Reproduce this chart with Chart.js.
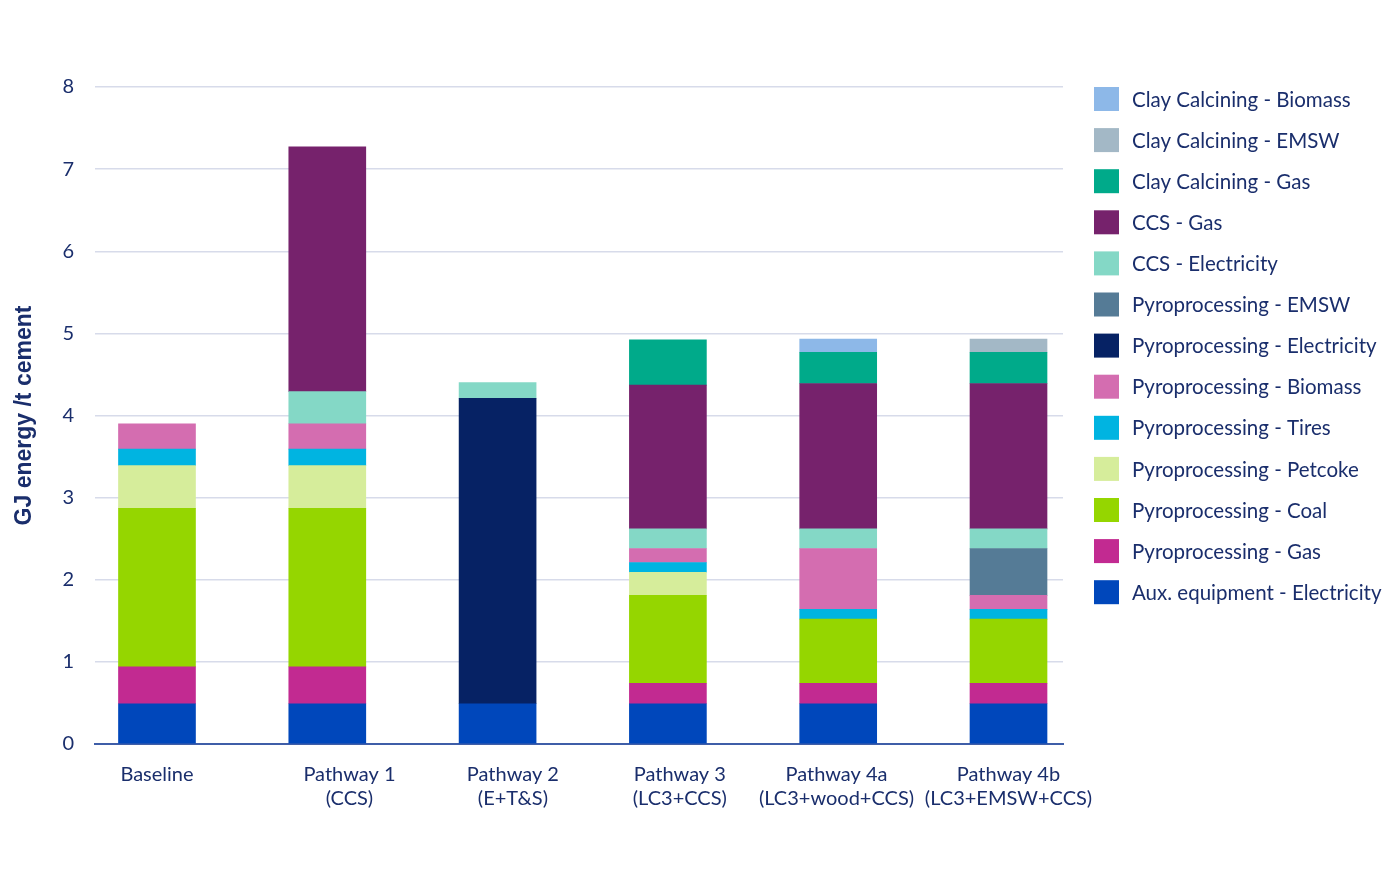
<!DOCTYPE html>
<html>
<head>
<meta charset="utf-8">
<script src="https://cdn.jsdelivr.net/npm/chart.js@4"></script>
<style>
  html, body { margin: 0; padding: 0; background: #fff; }
  #wrap { width: 1400px; height: 885px; position: relative; }
</style>
</head>
<body>
<div id="wrap"><canvas id="chart"></canvas></div>
<script>
// categories (x axis), multi-line labels
const categories = [
  ["Baseline"],
  ["Pathway 1", "(CCS)"],
  ["Pathway 2", "(E+T&S)"],
  ["Pathway 3", "(LC3+CCS)"],
  ["Pathway 4a", "(LC3+wood+CCS)"],
  ["Pathway 4b", "(LC3+EMSW+CCS)"]
];
const yTicks = [0, 1, 2, 3, 4, 5, 6, 7, 8];

// GJ energy / t cement, per category, bottom to top
const auxElectricity   = [0.49, 0.49, 0.49, 0.49, 0.49, 0.49];
const pyroGas          = [0.45, 0.45, 0,    0.25, 0.25, 0.25];
const pyroCoal         = [1.93, 1.93, 0,    1.07, 0.78, 0.78];
const pyroPetcoke      = [0.52, 0.52, 0,    0.28, 0,    0];
const pyroTires        = [0.20, 0.20, 0,    0.12, 0.12, 0.12];
const pyroBiomass      = [0.31, 0.31, 0,    0.17, 0.74, 0.17];
const pyroElectricity  = [0,    0,    3.72, 0,    0,    0];
const pyroEMSW         = [0,    0,    0,    0,    0,    0.57];
const ccsElectricity   = [0,    0.39, 0.19, 0.24, 0.24, 0.24];
const ccsGas           = [0,    2.98, 0,    1.75, 1.77, 1.77];
const clayGas          = [0,    0,    0,    0.55, 0.38, 0.38];
const clayEMSW         = [0,    0,    0,    0,    0,    0.16];
const clayBiomass      = [0,    0,    0,    0,    0.16, 0];

const seriesNames = [
  "Aux. equipment - Electricity",
  "Pyroprocessing - Gas",
  "Pyroprocessing - Coal",
  "Pyroprocessing - Petcoke",
  "Pyroprocessing - Tires",
  "Pyroprocessing - Biomass",
  "Pyroprocessing - Electricity",
  "Pyroprocessing - EMSW",
  "CCS - Electricity",
  "CCS - Gas",
  "Clay Calcining - Gas",
  "Clay Calcining - EMSW",
  "Clay Calcining - Biomass"
];
const seriesValues = [
  auxElectricity, pyroGas, pyroCoal, pyroPetcoke, pyroTires, pyroBiomass,
  pyroElectricity, pyroEMSW, ccsElectricity, ccsGas, clayGas, clayEMSW, clayBiomass
];
const seriesColors = [
  "#0047bb", "#c22a91", "#95d600", "#d6ed9b", "#00b4e1", "#d46db0",
  "#062264", "#557b96", "#84d8c6", "#76226c", "#00aa8a", "#a3b8c6", "#8db8e8"
];

const TEXT = "#1a2e6c";
const FONT = "Lato, 'Open Sans', sans-serif";

// the category labels in the original sit a little right of some bars
const labelShift = [0, 0.13, 0.09, 0.07, -0.01, 0];

// legend drawn on the canvas, top item = last series
const sideLegend = {
  id: "sideLegend",
  afterDraw(chart) {
    const ctx = chart.ctx;
    const n = chart.data.datasets.length;
    ctx.save();
    ctx.font = "20.5px " + FONT;
    ctx.textBaseline = "middle";
    ctx.textAlign = "left";
    for (let k = 0; k < n; k++) {
      const ds = chart.data.datasets[n - 1 - k];
      const cy = 99 + k * 41.1;
      ctx.fillStyle = ds.backgroundColor;
      ctx.fillRect(1094, cy - 12, 25, 24);
      ctx.fillStyle = TEXT;
      ctx.fillText(ds.label, 1132, cy + 1);
    }
    ctx.restore();
  }
};

const datasets = seriesNames.map((name, s) => ({
  label: name,
  // empty segments are left out so they leave no hairline
  data: seriesValues[s].map((v, i) => ({ x: i, y: v === 0 ? null : v })),
  backgroundColor: seriesColors[s],
  borderWidth: 0,
  barThickness: 77
}));

new Chart(document.getElementById("chart"), {
  type: "bar",
  data: { datasets: datasets },
  options: {
    responsive: true,
    maintainAspectRatio: false,
    animation: false,
    layout: { padding: { top: 87, right: 337, bottom: 0, left: 0 } },
    plugins: {
      legend: { display: false },
      tooltip: { enabled: false }
    },
    scales: {
      x: {
        type: "linear",
        stacked: true,
        offset: false,
        min: -0.364,
        max: 5.32,
        grid: { display: false },
        border: { display: true, color: "#3f5ea8", width: 2 },
        afterBuildTicks: (scale) => {
          scale.ticks = categories.map((c, i) => ({ value: i + labelShift[i] }));
        },
        afterFit: (scale) => { scale.height = 141; },
        ticks: {
          autoSkip: false,
          maxRotation: 0,
          padding: 11,
          color: TEXT,
          font: { family: FONT, size: 20, lineHeight: 1.2 },
          callback: (v, i) => categories[i]
        }
      },
      y: {
        stacked: true,
        min: 0,
        max: 8,
        afterBuildTicks: (scale) => {
          scale.ticks = yTicks.map((v) => ({ value: v }));
        },
        afterFit: (scale) => { scale.width = 95; },
        grid: { color: "#d7dbea", lineWidth: 1.5, drawTicks: false },
        border: { display: false },
        ticks: {
          padding: 21,
          color: TEXT,
          font: { family: FONT, size: 20 }
        },
        title: {
          display: true,
          text: "GJ energy /t cement",
          color: TEXT,
          font: { family: "'Liberation Sans', Arial, sans-serif", size: 23, weight: "bold" },
          padding: { top: 11, bottom: 0 }
        }
      }
    }
  },
  plugins: [sideLegend]
});
</script>
</body>
</html>
